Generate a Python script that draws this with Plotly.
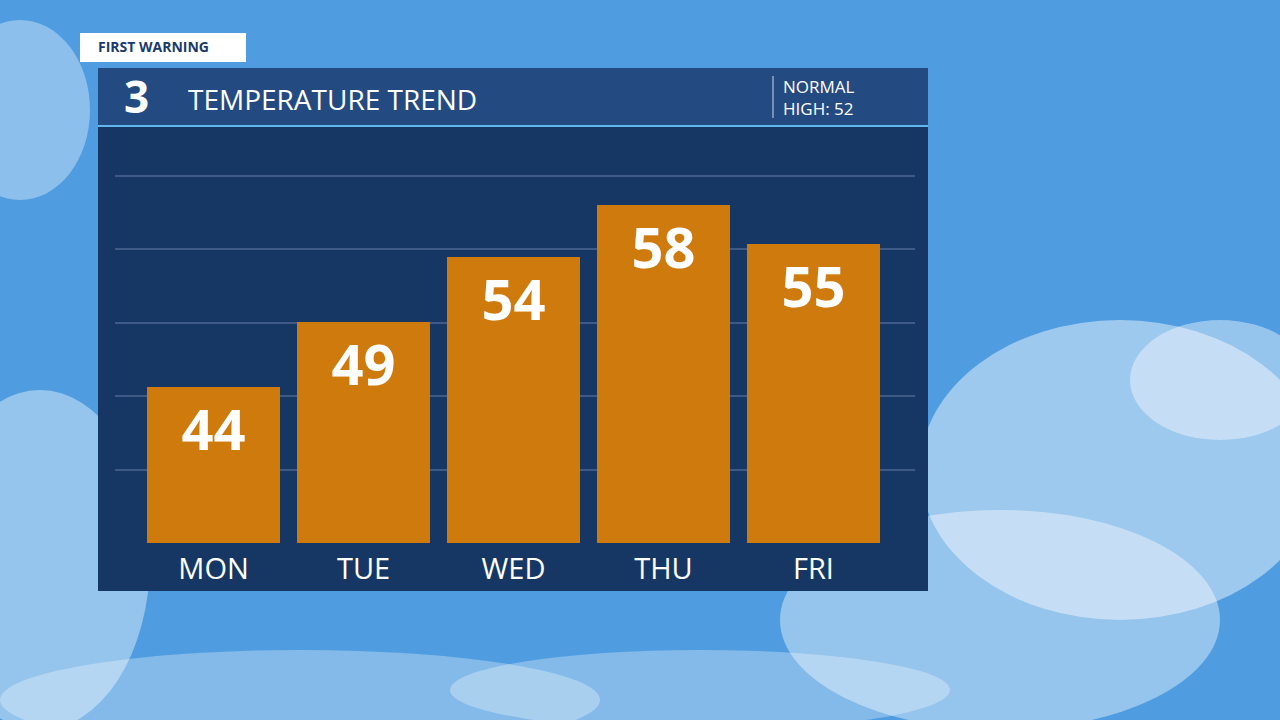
import plotly.graph_objects as go

days = ["MON", "TUE", "WED", "THU", "FRI"]
temps = [44, 49, 54, 58, 55]
normal_high = 52

W, H = 1280, 720
def px(x): return x / W
def py(y): return 1 - y / H

fig = go.Figure()
fig.add_trace(go.Bar(
    x=days, y=temps, base=0, width=0.887,
    marker=dict(color="#cf7a0d", line=dict(width=0)),
    text=[str(t) for t in temps], textposition="inside", insidetextanchor="end",
    textfont=dict(family="Open Sans", size=56, color="white", weight="bold"),
    cliponaxis=False, hoverinfo="skip",
))

shapes = []
for (cx, cy, rx, ry, op) in [(1120, 470, 200, 150, 0.45), (1000, 620, 220, 110, 0.4),
                              (40, 560, 110, 170, 0.4), (300, 700, 300, 50, 0.3),
                              (700, 690, 250, 40, 0.3), (20, 110, 70, 90, 0.35),
                              (1220, 380, 90, 60, 0.4)]:
    shapes.append(dict(type="circle", xref="paper", yref="paper", layer="below",
                       x0=px(cx-rx), x1=px(cx+rx), y0=py(cy+ry), y1=py(cy-ry),
                       fillcolor="white", opacity=op, line=dict(width=0)))
shapes.append(dict(type="rect", xref="paper", yref="paper", layer="below",
                   x0=px(98), x1=px(928), y0=py(591), y1=py(126),
                   fillcolor="#163763", line=dict(width=0)))
shapes.append(dict(type="rect", xref="paper", yref="paper", layer="below",
                   x0=px(98), x1=px(928), y0=py(126), y1=py(68),
                   fillcolor="#244a82", line=dict(width=0)))
shapes.append(dict(type="line", xref="paper", yref="paper", layer="below",
                   x0=px(98), x1=px(928), y0=py(126), y1=py(126),
                   line=dict(color="#62b6ee", width=2)))
shapes.append(dict(type="line", xref="paper", yref="paper",
                   x0=px(773), x1=px(773), y0=py(118), y1=py(76),
                   line=dict(color="#c8d6ea", width=1)))
shapes.append(dict(type="rect", xref="paper", yref="paper",
                   x0=px(80), x1=px(246), y0=py(62), y1=py(33),
                   fillcolor="white", line=dict(width=0)))

def A(x, y, text, size, color="white", xanchor="center", align="center"):
    return dict(x=px(x), y=py(y), xref="paper", yref="paper", text=text, showarrow=False,
                xanchor=xanchor, yanchor="middle", align=align,
                font=dict(family="Open Sans", size=size, color=color))

ann = [
    A(96, 47, "<b>FIRST WARNING</b>", 14, "#1b3a6a", "left"),
    A(136, 96, "<b>3</b>", 44),
    A(186, 99, "TEMPERATURE TREND", 28, xanchor="left"),
    A(781, 98, f"NORMAL<br>HIGH: {normal_high}", 17, xanchor="left", align="left"),
]

base = 32
ppd = 13.0
fig.update_layout(
    width=W, height=H, margin=dict(l=0, r=0, t=0, b=0),
    paper_bgcolor="#4f9de0", plot_bgcolor="rgba(0,0,0,0)",
    shapes=shapes, annotations=ann, showlegend=False, bargap=0,
    xaxis=dict(domain=[px(115), px(915)], range=[-0.657, 4.677], showgrid=False,
               zeroline=False, ticks="", ticklabelstandoff=6,
               tickfont=dict(family="Open Sans", size=29, color="white")),
    yaxis=dict(domain=[py(543), py(130)], range=[base, base + (543 - 130) / ppd],
               tick0=base, dtick=73.4 / ppd, showticklabels=False, zeroline=False,
               gridcolor="#3e5a85", gridwidth=2),
)
fig.write_html("out.html", post_script="document.body.style.margin='0';",
               config={"displayModeBar": False})
